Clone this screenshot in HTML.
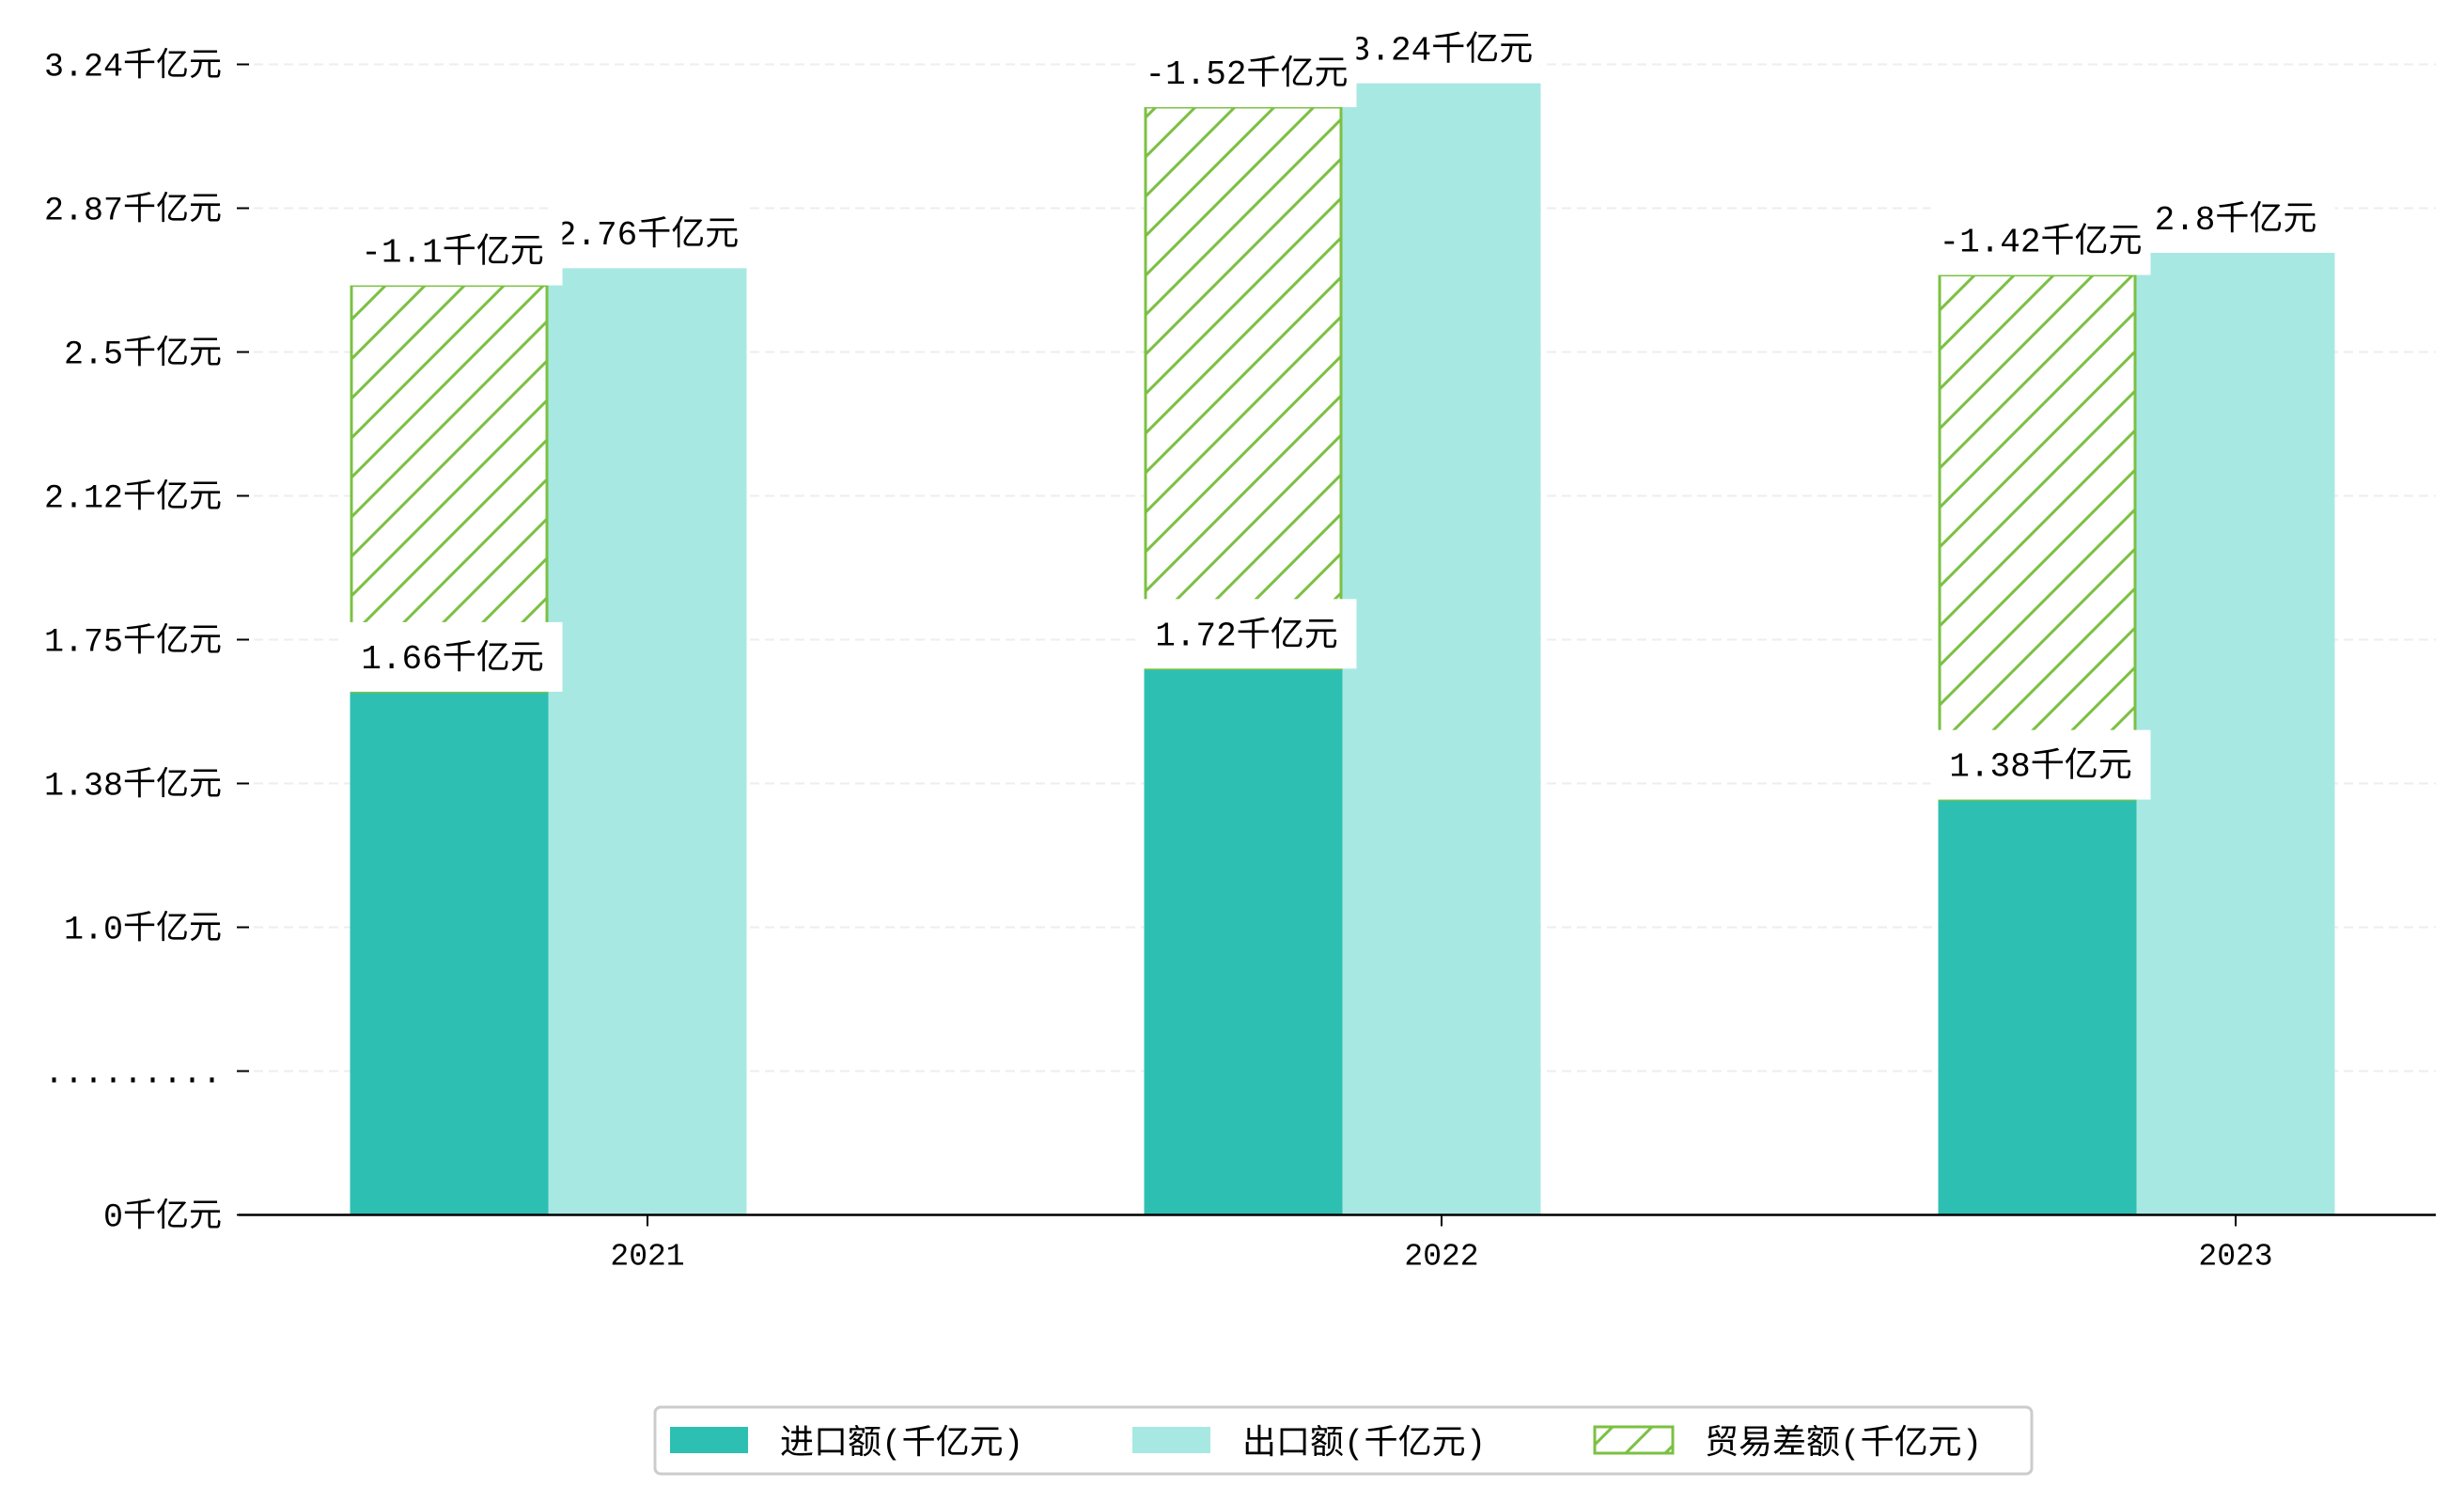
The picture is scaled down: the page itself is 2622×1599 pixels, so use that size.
<!DOCTYPE html>
<html><head><meta charset="utf-8"><style>
html,body{margin:0;padding:0;background:#fff;}
svg{display:block;font-family:"Liberation Mono","Noto Sans CJK SC",monospace;}
</style></head><body>
<svg id="chart" width="2622" height="1599" viewBox="0 0 2622 1599" xmlns="http://www.w3.org/2000/svg">
<defs>
<pattern id="hatch" patternUnits="userSpaceOnUse" width="42" height="42">
<rect width="42" height="42" fill="#fff"/>
<path d="M-10,52 L52,-10 M-10,10 L10,-10 M32,52 L52,32" stroke="#7bc043" stroke-width="3"/>
</pattern>
</defs>
<g id="grid"></g>
<g id="bars"></g>
<g id="labels"></g>
<g id="axes"></g>
<g id="legend"></g>
</svg>
<script>
const years = ['2021','2022','2023'];
const imports = [1.66, 1.72, 1.38];
const exports = [2.76, 3.24, 2.8];
const diffs = [-1.1, -1.52, -1.42];
const tickLabels = ['0千亿元','.........','1.0千亿元','1.38千亿元','1.75千亿元','2.12千亿元','2.5千亿元','2.87千亿元','3.24千亿元'];

const NS='http://www.w3.org/2000/svg';
const baseY=1292.5, tickStep=153;
const valY = v => 1416 - 409.7*v;
const xCenter = i => 689 + i*845;
const bw = 211;
function mk(tag, attrs, parent, text){
  const e=document.createElementNS(NS,tag);
  for(const k in attrs) e.setAttribute(k,attrs[k]);
  if(text!==undefined) e.textContent=text;
  document.getElementById(parent).appendChild(e);
  return e;
}
tickLabels.forEach((t,i)=>{
  const y=baseY-i*tickStep;
  if(i>0){
    const g=mk('line',{x1:254,x2:2592,y1:y,y2:y,stroke:'#eeeeee','stroke-width':2,'stroke-dasharray':'10,6'},'grid');
    
    
  }
  const tk=mk('line',{x1:252,x2:265,y1:y,y2:y,stroke:'#000','stroke-width':2},'axes');
  
  
  const lb=mk('text',{x:236,y:y+12,'text-anchor':'end','font-size':35,fill:'#000'},'axes',t);
  
  
});
const ax=mk('line',{x1:254,x2:2592,y1:baseY,y2:baseY,stroke:'#000','stroke-width':2.5},'axes');



function label(x,yBottom,w,txt,name){
  const r=mk('rect',{x:x,y:yBottom-74,width:w,height:74,fill:'#fff'},'labels');
  
  
  const t=mk('text',{x:x+w/2,y:yBottom-25,'text-anchor':'middle','font-size':36,fill:'#000'},'labels',txt);
  
  
}
years.forEach((yr,i)=>{
  const c=xCenter(i);
  const ix=c-1.5*bw, ex=c-0.5*bw;
  const iy=valY(imports[i]);
  const b1=mk('rect',{x:ix,y:iy,width:bw,height:baseY-iy,fill:'#2ebfb3'},'bars');
  
  
  const ey=valY(exports[i]);
  const b2=mk('rect',{x:ex,y:ey,width:bw,height:baseY-ey,fill:'#a8e8e2'},'bars');
  
  
  const dh=Math.abs(diffs[i])*393;
  const dy=iy-dh;
  const b3=mk('rect',{x:ix+1.5,y:dy,width:bw-3,height:dh,fill:'url(#hatch)',stroke:'#7bc043','stroke-width':3},'bars');
  
  
  label(ex,ey,bw,exports[i]+'千亿元','export-label-'+yr);
  label(ix-8,iy,234,imports[i]+'千亿元','import-label-'+yr);
  label(ix-8,dy,234,diffs[i]+'千亿元','diff-label-'+yr);
  const xt=mk('line',{x1:c,x2:c,y1:baseY,y2:baseY+12,stroke:'#000','stroke-width':2},'axes');
  
  
  const xl=mk('text',{x:c,y:baseY+53,'text-anchor':'middle','font-size':33,fill:'#000'},'axes',yr);
  
  
});
const lg=mk('rect',{x:697,y:1497,width:1465,height:71,rx:6,fill:'#fff',stroke:'#cccccc','stroke-width':3},'legend');


const items=[['进口额(千亿元)','#2ebfb3',713],['出口额(千亿元)','#a8e8e2',1205],['贸易差额(千亿元)','url(#hatch)',1697]];
items.forEach((it,k)=>{
  const sw=mk('rect',{x:it[2],y:1518,width:83,height:28,fill:it[1],stroke:k==2?'#7bc043':'none','stroke-width':3},'legend');
  
  
  const t=mk('text',{x:it[2]+117,y:1546,'font-size':36,fill:'#000'},'legend',it[0]);
  
  
});
</script>
</body></html>
